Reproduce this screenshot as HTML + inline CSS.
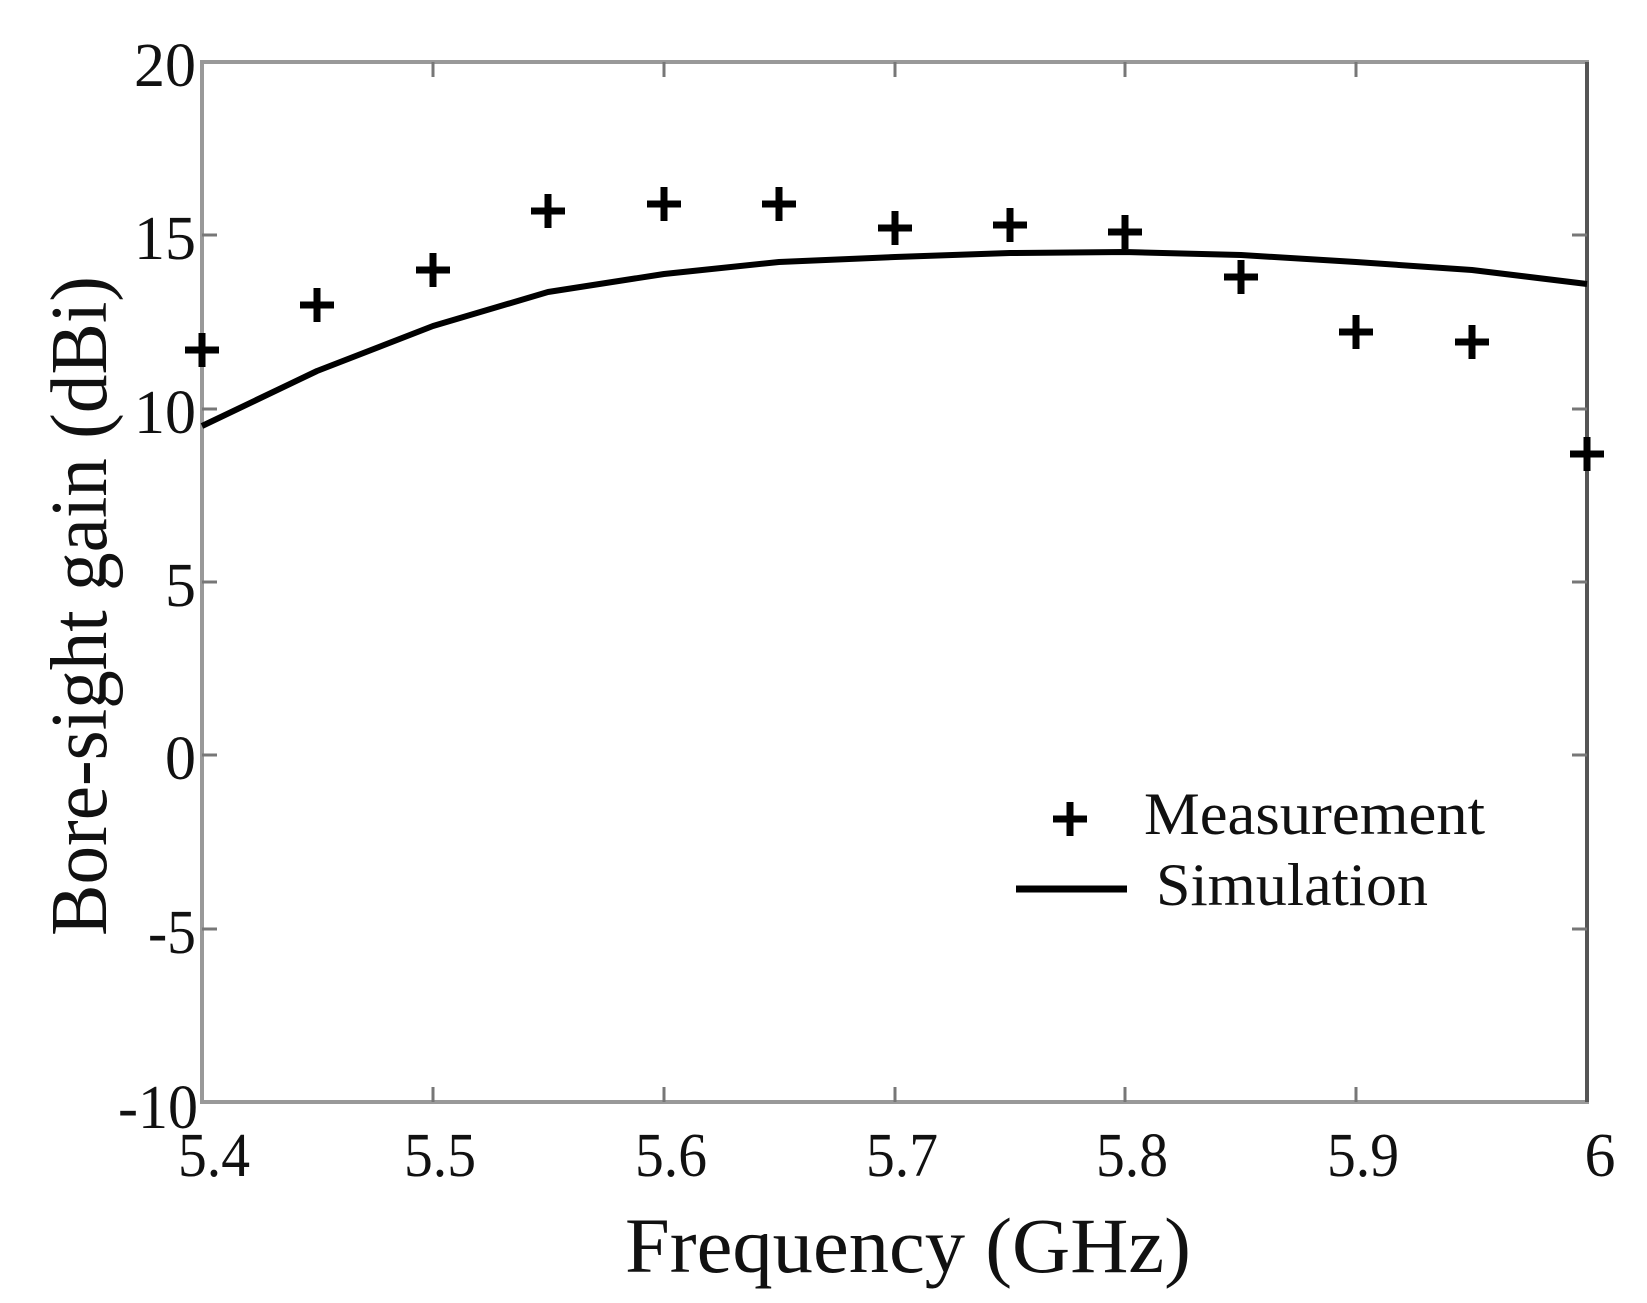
<!DOCTYPE html>
<html><head><meta charset="utf-8"><style>
html,body{margin:0;padding:0;background:#fff;}
svg{display:block;}
text{font-family:"Liberation Serif",serif;fill:#111;}
</style></head><body>
<svg width="1647" height="1303" viewBox="0 0 1647 1303" xmlns="http://www.w3.org/2000/svg">
<rect x="202" y="62" width="1385" height="1040" fill="none" stroke="#999" stroke-width="4"/>
<line x1="1587" y1="62" x2="1587" y2="1102" stroke="#555" stroke-width="4"/>
<g stroke="#777" stroke-width="3">
<line x1="202" y1="235" x2="217" y2="235"/><line x1="1587" y1="235" x2="1572" y2="235"/>
<line x1="202" y1="409" x2="217" y2="409"/><line x1="1587" y1="409" x2="1572" y2="409"/>
<line x1="202" y1="582" x2="217" y2="582"/><line x1="1587" y1="582" x2="1572" y2="582"/>
<line x1="202" y1="755" x2="217" y2="755"/><line x1="1587" y1="755" x2="1572" y2="755"/>
<line x1="202" y1="929" x2="217" y2="929"/><line x1="1587" y1="929" x2="1572" y2="929"/>
<line x1="433" y1="1102" x2="433" y2="1087"/><line x1="664" y1="1102" x2="664" y2="1087"/>
<line x1="895" y1="1102" x2="895" y2="1087"/><line x1="1125" y1="1102" x2="1125" y2="1087"/>
<line x1="1356" y1="1102" x2="1356" y2="1087"/>
<line x1="433" y1="62" x2="433" y2="77"/><line x1="664" y1="62" x2="664" y2="77"/>
<line x1="895" y1="62" x2="895" y2="77"/><line x1="1125" y1="62" x2="1125" y2="77"/>
<line x1="1356" y1="62" x2="1356" y2="77"/>
</g>
<g font-size="62" text-anchor="end">
<text x="196" y="86" textLength="62" lengthAdjust="spacingAndGlyphs">20</text>
<text x="196" y="259" textLength="62" lengthAdjust="spacingAndGlyphs">15</text>
<text x="196" y="433" textLength="62" lengthAdjust="spacingAndGlyphs">10</text>
<text x="196" y="606">5</text>
<text x="196" y="779">0</text>
<text x="196" y="953" textLength="48" lengthAdjust="spacingAndGlyphs">-5</text>
<text x="198" y="1128" textLength="80" lengthAdjust="spacingAndGlyphs">-10</text>
</g>
<g font-size="62" text-anchor="middle">
<text x="214" y="1176" textLength="72" lengthAdjust="spacingAndGlyphs">5.4</text>
<text x="440" y="1176" textLength="72" lengthAdjust="spacingAndGlyphs">5.5</text>
<text x="671" y="1176" textLength="72" lengthAdjust="spacingAndGlyphs">5.6</text>
<text x="902" y="1176" textLength="72" lengthAdjust="spacingAndGlyphs">5.7</text>
<text x="1132" y="1176" textLength="72" lengthAdjust="spacingAndGlyphs">5.8</text>
<text x="1363" y="1176" textLength="72" lengthAdjust="spacingAndGlyphs">5.9</text>
<text x="1600" y="1176">6</text>
</g>
<text x="908" y="1272" font-size="78" text-anchor="middle" textLength="566" lengthAdjust="spacingAndGlyphs">Frequency (GHz)</text>
<text transform="translate(106,606) rotate(-90)" font-size="80" text-anchor="middle" textLength="660" lengthAdjust="spacingAndGlyphs">Bore-sight gain (dBi)</text>
<polyline fill="none" stroke="#000" stroke-width="6" stroke-linejoin="round" points="202,426 317,371 433,326 548,292 664,274 779,262 895,257 1010,253 1125,252 1241,255 1356,262 1472,270 1587,284"/>
<g stroke="#000" stroke-width="7">
<path d="M185,350h34M202,333v34"/>
<path d="M300,305h34M317,288v34"/>
<path d="M416,270h34M433,253v34"/>
<path d="M531,211h34M548,194v34"/>
<path d="M647,204h34M664,187v34"/>
<path d="M762,204h34M779,187v34"/>
<path d="M878,228h34M895,211v34"/>
<path d="M993,225h34M1010,208v34"/>
<path d="M1108,232h34M1125,215v34"/>
<path d="M1224,277h34M1241,260v34"/>
<path d="M1339,332h34M1356,315v34"/>
<path d="M1455,342h34M1472,325v34"/>
<path d="M1570,454h34M1587,437v34"/>
</g>
<path d="M1053,819h34M1070,802v34" stroke="#000" stroke-width="7"/>
<text x="1144" y="834" font-size="60" textLength="341" lengthAdjust="spacingAndGlyphs">Measurement</text>
<line x1="1016" y1="889" x2="1127" y2="889" stroke="#000" stroke-width="7"/>
<text x="1156" y="905" font-size="60" textLength="272" lengthAdjust="spacingAndGlyphs">Simulation</text>
</svg>
</body></html>
